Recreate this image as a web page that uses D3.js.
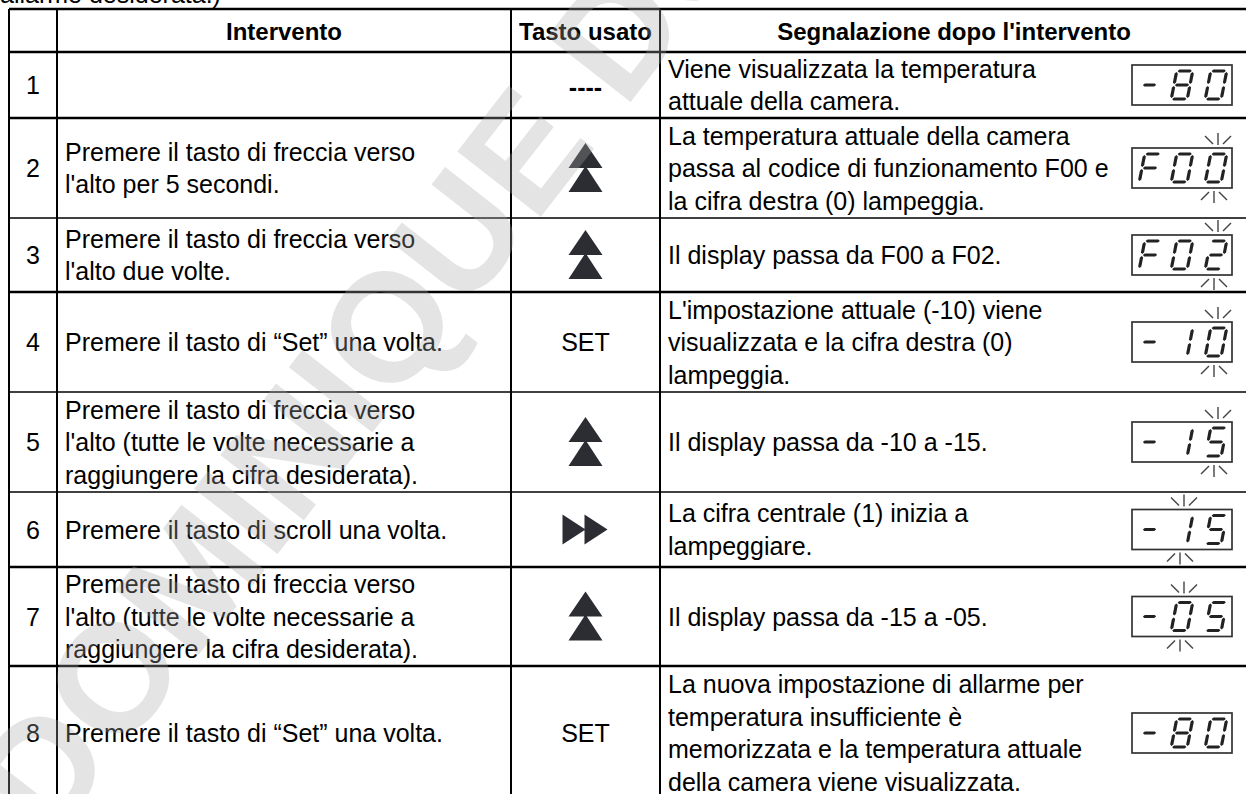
<!DOCTYPE html>
<html><head><meta charset="utf-8">
<script src="https://cdn.jsdelivr.net/npm/d3@7"></script>
<style>html,body{margin:0;padding:0;background:#fff;overflow:hidden}</style>
</head><body>
<svg id="c" width="1246" height="794"></svg>
<script>
// ---------- data ----------
const introText = "allarme desiderata.)";
const headers = ["", "Intervento", "Tasto usato", "Segnalazione dopo l'intervento"];
const steps = ["1","2","3","4","5","6","7","8"];
const actions = [
  [],
  ["Premere il tasto di freccia verso","l'alto per 5 secondi."],
  ["Premere il tasto di freccia verso","l'alto due volte."],
  ["Premere il tasto di “Set” una volta."],
  ["Premere il tasto di freccia verso","l'alto (tutte le volte necessarie a","raggiungere la cifra desiderata)."],
  ["Premere il tasto di scroll una volta."],
  ["Premere il tasto di freccia verso","l'alto (tutte le volte necessarie a","raggiungere la cifra desiderata)."],
  ["Premere il tasto di “Set” una volta."]
];
const keys = ["----","up","up","SET","up","scroll","up","SET"];
const results = [
  ["Viene visualizzata la temperatura","attuale della camera."],
  ["La temperatura attuale della camera","passa al codice di funzionamento F00 e","la cifra destra (0) lampeggia."],
  ["Il display passa da F00 a F02."],
  ["L'impostazione attuale (-10) viene","visualizzata e la cifra destra (0)","lampeggia."],
  ["Il display passa da -10 a -15."],
  ["La cifra centrale (1) inizia a","lampeggiare."],
  ["Il display passa da -15 a -05."],
  ["La nuova impostazione di allarme per","temperatura insufficiente è","memorizzata e la temperatura attuale","della camera viene visualizzata."]
];
const displays = ["-80","F00","F02","-10","-15","-15","-05","-80"];
const blinkPos = [-1,2,2,2,2,1,1,-1];
const watermark = "DOMINIQUE DU";

// seven-segment character map
const SEG = { "8":"abcdefg", "0":"abcdef", "F":"aefg", "2":"abged", "1":"bc", "5":"afgcd", "-":"g" };

// ---------- layout ----------
const colEdges = [9, 57, 511, 660, 1248];
const tableTop = 9, headerH = 43;
const rowH = [66,100,74,100,100,75,99,134];
const FS = 25, PITCH = 32.5, TXT = "#000";
const font = "'Liberation Sans', Arial, sans-serif";

const svg = d3.select("#c");
const rowEdges = [tableTop, tableTop + headerH];
rowH.forEach(h => rowEdges.push(rowEdges[rowEdges.length-1] + h));
const yc = i => (rowEdges[i+1] + rowEdges[i+2]) / 2;
const xc = j => (colEdges[j] + colEdges[j+1]) / 2;

function lines(g, arr, x, cy, anchor) {
  const n = arr.length;
  return g.selectAll(null).data(arr).join("text")
    .attr("x", x).attr("y", (d,k) => cy - (n-1)*PITCH/2 + k*PITCH + FS*0.36)
    .attr("text-anchor", anchor).attr("font-family", font).attr("font-size", FS)
    .attr("fill", TXT).text(d => d);
}

function drawDisplay(g, code, blink, cy) {
  const bw = 100, bh = 40, bx = 1132, by = cy - bh/2;
  const dg = g.append("g");
  dg.append("rect").attr("x", bx).attr("y", by).attr("width", bw).attr("height", bh)
    .attr("fill","#fff").attr("stroke","#333").attr("stroke-width", 1.7);
  const slots = [1150, 1182, 1216];
  const W = 16, H = 28, t = 3.2, gp = 0.9;
  const hseg = (x1,x2,yy) => `M${x1+gp},${yy} L${x1+gp+t/2},${yy-t/2} L${x2-gp-t/2},${yy-t/2} L${x2-gp},${yy} L${x2-gp-t/2},${yy+t/2} L${x1+gp+t/2},${yy+t/2} Z`;
  const vseg = (xx,y1,y2) => `M${xx},${y1+gp} L${xx+t/2},${y1+gp+t/2} L${xx+t/2},${y2-gp-t/2} L${xx},${y2-gp} L${xx-t/2},${y2-gp-t/2} L${xx-t/2},${y1+gp+t/2} Z`;
  const segPath = { a: hseg(0,W,0), g: hseg(0,W,H/2), d: hseg(0,W,H),
    f: vseg(0,0,H/2), e: vseg(0,H/2,H), b: vseg(W,0,H/2), c: vseg(W,H/2,H) };
  code.split("").forEach((ch, s) => {
    const segs = SEG[ch] || "";
    const cg = dg.append("g").attr("transform", `translate(${slots[s]},${cy}) skewX(-11) translate(${-W/2},${-H/2})`);
    segs.split("").forEach(sg => {
      const p = ch === "-" ? hseg(0, W-1, H/2) : segPath[sg];
      cg.append("path").attr("d", p).attr("fill","#222");
    });
  });
  if (blink >= 0) {
    const ct = slots[blink] + 2, cb = slots[blink] - 2;
    const top = by, bot = by + bh;
    const sp = [
      [ct-13, top-12, ct-5, top-4], [ct, top-15, ct, top-3], [ct+13, top-12, ct+5, top-4],
      [cb-13, bot+12, cb-5, bot+4], [cb, bot+15, cb, bot+3], [cb+13, bot+12, cb+5, bot+4]
    ];
    dg.selectAll(null).data(sp).join("line")
      .attr("x1", d=>d[0]).attr("y1", d=>d[1]).attr("x2", d=>d[2]).attr("y2", d=>d[3])
      .attr("stroke","#444").attr("stroke-width",1.4);
  }
}

// intro text (cut off at top)
svg.append("text").attr("x", 0).attr("y", 3).attr("font-family", font).attr("font-size", FS)
  .attr("fill", TXT).text(introText);

// header
svg.selectAll("text.h").data(headers).join("text").attr("class","h")
  .attr("x", (d,j) => xc(j)).attr("y", (rowEdges[0]+rowEdges[1])/2 + FS*0.36)
  .attr("text-anchor","middle").attr("font-family", font).attr("font-weight","bold")
  .attr("font-size", 24).attr("fill", TXT).text(d => d);

const rows = svg.selectAll("g.row").data(steps).join("g").attr("class","row");
rows.each(function(d, i) {
  const g = d3.select(this);
  const cy = yc(i);
  lines(g, [d], xc(0), cy, "middle");
  lines(g, actions[i], colEdges[1] + 8, cy, "start");
  lines(g, results[i], colEdges[3] + 8, cy, "start");
  const k = keys[i], cx = xc(2);
  const ink = "#2b2d33";
  if (k === "up") {
    const w = 17, h = 25;
    g.append("path").attr("fill", ink)
      .attr("d", `M${cx},${cy-h} L${cx+w},${cy} L${cx-w},${cy} Z M${cx},${cy-2} L${cx+w},${cy+h-1} L${cx-w},${cy+h-1} Z`);
  } else if (k === "scroll") {
    const w = 23, h = 15;
    g.append("path").attr("fill", ink)
      .attr("d", `M${cx-w},${cy-h} L${cx},${cy} L${cx-w},${cy+h} Z M${cx-1},${cy-h} L${cx+w-1},${cy} L${cx-1},${cy+h} Z`);
  } else if (k === "----") {
    lines(g, [k], cx, cy + 2, "middle").attr("font-weight","bold");
  } else {
    lines(g, [k], cx, cy, "middle");
  }
  drawDisplay(g, displays[i], blinkPos[i], cy);
});

// grid lines
const thick = [true, true, true, false, true, false, false, true, true, true];
svg.selectAll("line.hr").data(rowEdges).join("line").attr("class","hr")
  .attr("x1", colEdges[0]).attr("x2", colEdges[4]).attr("y1", d=>d).attr("y2", d=>d)
  .attr("stroke","#000").attr("stroke-width", (d,i) => thick[i] ? 2.6 : 1.6);
svg.selectAll("line.vr").data(colEdges).join("line").attr("class","vr")
  .attr("x1", d=>d).attr("x2", d=>d).attr("y1", tableTop).attr("y2", rowEdges[rowEdges.length-1])
  .attr("stroke","#000").attr("stroke-width", 2);

// watermark
svg.append("text").attr("transform","translate(50,845) rotate(-52)")
  .attr("font-family", font).attr("font-weight","bold").attr("font-size", 154)
  .attr("fill","#a8a8a8").attr("fill-opacity",0.31).text(watermark);
</script>
</body></html>
